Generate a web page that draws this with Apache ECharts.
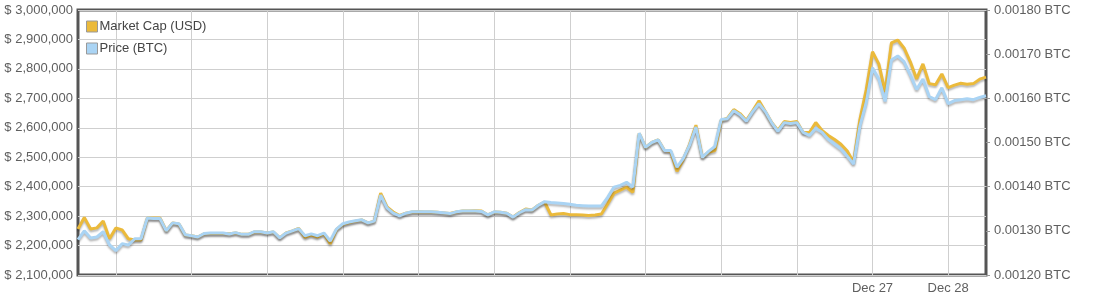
<!DOCTYPE html>
<html>
<head>
<meta charset="utf-8">
<script src="https://cdn.jsdelivr.net/npm/echarts@6/dist/echarts.min.js"></script>
<style>
html,body{margin:0;padding:0;background:#fff;}
#chart{width:1097px;height:295px;}
</style>
</head>
<body>
<div id="chart"></div>
<script>
// 2-hourly samples, Dec 16 12:00 -> Dec 28 12:00
var startTime = Date.UTC(2013, 11, 16, 12, 0);
var stepHours = 2;
var xTickLabels = ['Dec 27', 'Dec 28'];

var marketCapUSD = [
2256000,2295000,2256000,2260000,2283000,2223000,2260000,2253000,2223000,2219000,
2219000,2294000,2294000,2294000,2250000,2277000,2273000,2236000,2233000,2229000,
2240000,2241000,2241000,2241000,2240000,2243000,2238000,2238000,2246000,2246000,
2243000,2246000,2226000,2243000,2250000,2258000,2228000,2236000,2229000,2240000,
2206000,2255000,2272000,2278000,2283000,2287000,2277000,2283000,2378000,2331000,
2314000,2302000,2310000,2314000,2315000,2314000,2314000,2313000,2311000,2309000,
2314000,2317000,2317000,2318000,2317000,2304000,2314000,2313000,2310000,2297000,
2312000,2324000,2321000,2337000,2348000,2304000,2307000,2309000,2305000,2305000,
2304000,2302000,2304000,2307000,2341000,2378000,2388000,2398000,2381000,2581000,
2533000,2550000,2559000,2523000,2520000,2452000,2493000,2544000,2609000,2500000,
2517000,2523000,2625000,2633000,2662000,2648000,2625000,2658000,2692000,2655000,
2618000,2591000,2621000,2618000,2621000,2584000,2584000,2618000,2591000,2574000,
2560000,2544000,2521000,2483000,2628000,2729000,2858000,2817000,2723000,2888000,
2898000,2871000,2824000,2766000,2817000,2750000,2746000,2783000,2736000,2745000,
2751000,2748000,2750000,2765000,2772000
];

var priceBTC = [
0.001280,0.001300,0.001284,0.001286,0.001298,0.001268,0.001255,0.001271,0.001268,0.001282,
0.001282,0.001329,0.001328,0.001328,0.001300,0.001318,0.001316,0.001291,0.001289,0.001286,
0.001294,0.001295,0.001295,0.001295,0.001293,0.001296,0.001292,0.001292,0.001298,0.001298,
0.001295,0.001298,0.001284,0.001295,0.001300,0.001305,0.001289,0.001293,0.001289,0.001295,
0.001277,0.001304,0.001316,0.001320,0.001323,0.001325,0.001318,0.001322,0.001381,0.001352,
0.001340,0.001334,0.001340,0.001343,0.001343,0.001343,0.001343,0.001342,0.001341,0.001339,
0.001343,0.001345,0.001345,0.001345,0.001344,0.001336,0.001343,0.001342,0.001340,0.001331,
0.001341,0.001348,0.001347,0.001358,0.001366,0.001364,0.001363,0.001362,0.001360,0.001358,
0.001357,0.001356,0.001356,0.001356,0.001376,0.001399,0.001403,0.001410,0.001399,0.001521,
0.001489,0.001500,0.001506,0.001482,0.001482,0.001444,0.001464,0.001494,0.001535,0.001466,
0.001480,0.001491,0.001552,0.001554,0.001572,0.001563,0.001548,0.001570,0.001588,0.001570,
0.001545,0.001525,0.001545,0.001543,0.001545,0.001523,0.001516,0.001532,0.001523,0.001507,
0.001496,0.001485,0.001469,0.001451,0.001537,0.001590,0.001669,0.001644,0.001593,0.001687,
0.001696,0.001683,0.001653,0.001620,0.001644,0.001604,0.001597,0.001624,0.001588,0.001595,
0.001597,0.001599,0.001597,0.001602,0.001606
];

var monthNames = ['Jan','Feb','Mar','Apr','May','Jun','Jul','Aug','Sep','Oct','Nov','Dec'];
var categories = [];
for (var i = 0; i < marketCapUSD.length; i++) {
  var d = new Date(startTime + i * stepHours * 3600000);
  var hh = ('0' + d.getUTCHours()).slice(-2);
  categories.push(monthNames[d.getUTCMonth()] + ' ' + d.getUTCDate() + ' ' + hh + ':00');
}
function isMidnight(v) { return v.slice(-5) === '00:00'; }
function dayPart(v) { return v.slice(0, v.length - 6); }

function fmtUSD(v) {
  return '$ ' + Math.round(v).toString().replace(/\B(?=(\d{3})+(?!\d))/g, ',');
}

var textColor = '#5f5f5f';
var font = 'Liberation Sans, Arial, sans-serif';
var lineShadow = { shadowColor: 'rgba(0,0,0,0.28)', shadowBlur: 2, shadowOffsetY: 2 };

var chart = echarts.init(document.getElementById('chart'));
chart.setOption({
  animation: false,
  backgroundColor: '#fff',
  textStyle: { fontFamily: font },
  grid: {
    left: 78, right: 111, top: 10, bottom: 18,
    show: true, borderColor: '#555', borderWidth: 3, backgroundColor: 'transparent'
  },
  legend: {
    orient: 'vertical', left: 81, top: 15,
    itemWidth: 11, itemHeight: 11, itemGap: 9,
    icon: 'rect',
    textStyle: { color: '#444', fontSize: 13, fontFamily: font, padding: [0, 0, 0, -3] },
    data: [
      { name: 'Market Cap (USD)', itemStyle: { color: '#EBBA3B', borderColor: '#999', borderWidth: 1 } },
      { name: 'Price (BTC)', itemStyle: { color: '#AAD4F4', borderColor: '#999', borderWidth: 1 } }
    ]
  },
  xAxis: {
    type: 'category',
    data: categories,
    boundaryGap: false,
    axisLine: { show: false },
    axisTick: { show: false },
    axisLabel: {
      color: textColor, fontSize: 13, fontFamily: font, margin: 7,
      interval: function (idx, v) { return isMidnight(v) && xTickLabels.indexOf(dayPart(v)) >= 0; },
      formatter: function (v) { return dayPart(v); }
    },
    splitLine: {
      show: true,
      interval: function (idx, v) { return isMidnight(v); },
      lineStyle: { color: '#cfcfcf', width: 1 }
    }
  },
  yAxis: [
    {
      type: 'value', position: 'left',
      min: 2100000, max: 3000000, interval: 100000,
      axisLine: { show: false }, axisTick: { show: false },
      axisLabel: { color: textColor, fontSize: 13, fontFamily: font, margin: 5, formatter: fmtUSD },
      splitLine: { show: true, lineStyle: { color: '#cfcfcf', width: 1 } }
    },
    {
      type: 'value', position: 'right',
      min: 0.0012, max: 0.0018, interval: 0.0001,
      axisLine: { show: false },
      axisTick: { show: true, length: 4, lineStyle: { color: '#999' } },
      axisLabel: { color: textColor, fontSize: 13, fontFamily: font, margin: 8,
        formatter: function (v) { return v.toFixed(5) + ' BTC'; } },
      splitLine: { show: false }
    }
  ],
  series: [
    {
      name: 'Market Cap (USD)', type: 'line', yAxisIndex: 0,
      data: marketCapUSD, showSymbol: false, symbol: 'none',
      color: '#EBBA3B',
      lineStyle: Object.assign({ color: '#EBBA3B', width: 3 }, lineShadow)
    },
    {
      name: 'Price (BTC)', type: 'line', yAxisIndex: 1,
      data: priceBTC, showSymbol: false, symbol: 'none',
      color: '#AAD4F4',
      lineStyle: Object.assign({ color: '#AAD4F4', width: 3 }, lineShadow)
    }
  ]
});
</script>
</body>
</html>
